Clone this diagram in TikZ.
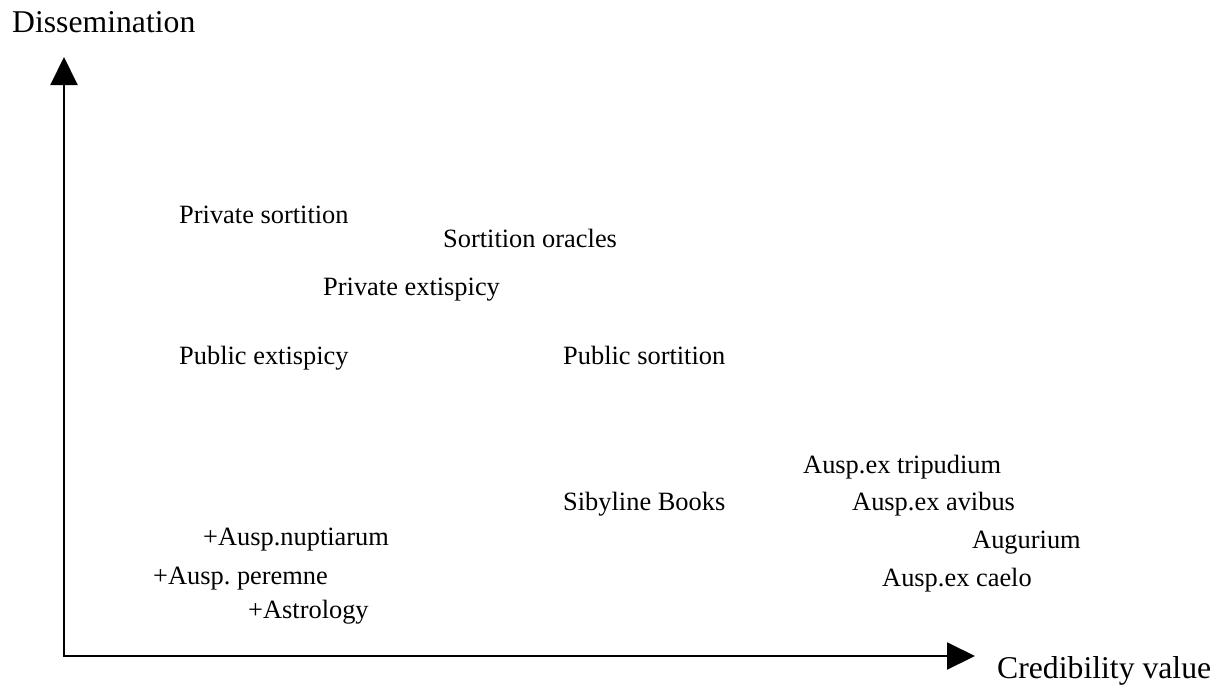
\documentclass[tikz,border=0pt]{standalone}
\usepackage{fontspec}
\setmainfont{Liberation Serif}
\usetikzlibrary{arrows.meta}

\tikzset{
  axis/.style={line width=2pt, line join=miter,
    {Triangle[length=28pt,width=27pt]}-{Triangle[length=28pt,width=27pt]}},
  axislabel/.style={anchor=base west, inner sep=0pt,
    font=\fontsize{31.7}{36}\selectfont},
  item/.style={anchor=base west, inner sep=0pt,
    font=\fontsize{26.4}{30}\selectfont},
}

\begin{document}
\begin{tikzpicture}[x=1pt, y=-1pt]
  \useasboundingbox (0,0) rectangle (1230,693);

  % axes
  \coordinate (origin) at (64,656);
  \coordinate (ytip) at (64,57);
  \coordinate (xtip) at (975,656);
  \draw[axis] (ytip) -- (origin) -- (xtip);

  \node[axislabel] (ylab) at (12,33) {Dissemination};
  \node[axislabel] (xlab) at (997,678) {Credibility value};

  % practices placed by credibility and dissemination
  \node[item] (privsort) at (179,223) {Private sortition};
  \node[item] (sortorac) at (443,247) {Sortition oracles};
  \node[item] (privext)  at (323,295) {Private extispicy};
  \node[item] (pubext)   at (179,364) {Public extispicy};
  \node[item] (pubsort)  at (563,364) {Public sortition};
  \node[item] (tripud)   at (803,473) {Ausp.ex tripudium};
  \node[item] (avibus)   at (852,510) {Ausp.ex avibus};
  \node[item] (sibyl)    at (563,510) {Sibyline Books};
  \node[item] (nupt)     at (203,545) {+Ausp.nuptiarum};
  \node[item] (augur)    at (972,548) {Augurium};
  \node[item] (peremne)  at (153,584) {+Ausp.\ peremne};
  \node[item] (caelo)    at (882,586) {Ausp.ex caelo};
  \node[item] (astro)    at (248,618) {+Astrology};
\end{tikzpicture}
\end{document}
